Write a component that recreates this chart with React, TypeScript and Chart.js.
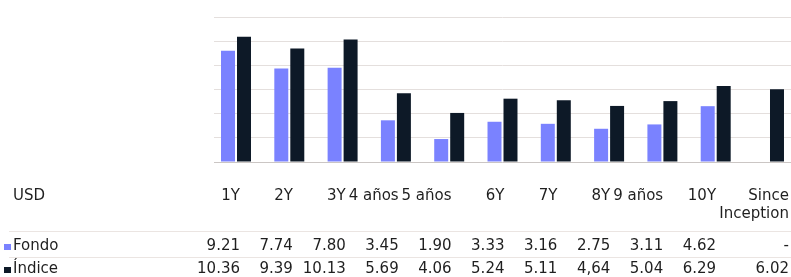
import React, { useEffect, useRef } from 'react';
import { Chart, registerables } from 'chart.js';

Chart.register(...registerables);

const categories = ['1Y', '2Y', '3Y', '4 años', '5 años', '6Y', '7Y', '8Y', '9 años', '10Y', 'Since Inception'];
const fondoValues: (number | null)[] = [9.21, 7.74, 7.8, 3.45, 1.9, 3.33, 3.16, 2.75, 3.11, 4.62, null];
const indiceValues: (number | null)[] = [10.36, 9.39, 10.13, 5.69, 4.06, 5.24, 5.11, 4.64, 5.04, 6.29, 6.02];
const fondoLabels = ['9.21', '7.74', '7.80', '3.45', '1.90', '3.33', '3.16', '2.75', '3.11', '4.62', '-'];
const indiceLabels = ['10.36', '9.39', '10.13', '5.69', '4.06', '5.24', '5.11', '4,64', '5.04', '6.29', '6.02'];
const currencyLabel = 'USD';
const seriesNames = ['Fondo', 'Índice'];
const yMin = 0;
const yMax = 12;
const yStep = 2;

const FONDO_COLOR = '#7A82FF';
const INDICE_COLOR = '#0D1927';
const FONT = '"DejaVu Sans", sans-serif';
const TEXT_COLOR = '#1f1f1f';

const colRight = (i: number) => (i < 10 ? 240 + 52.9 * i : 789);
const colLeft = (i: number) => (i === 0 ? 187 : i < 10 ? colRight(i - 1) : colRight(9));

export default function App() {
  const canvasRef = useRef<HTMLCanvasElement | null>(null);

  useEffect(() => {
    const canvas = canvasRef.current;
    if (!canvas) return;
    const chart = new Chart(canvas, {
      type: 'bar',
      data: {
        datasets: [
          {
            label: seriesNames[0],
            data: fondoValues.map((v, i) => ({ x: i, y: v })) as any,
            backgroundColor: FONDO_COLOR,
            categoryPercentage: 0.6,
            barPercentage: 0.875,
          },
          {
            label: seriesNames[1],
            data: indiceValues.map((v, i) => ({ x: i, y: v })) as any,
            backgroundColor: INDICE_COLOR,
            categoryPercentage: 0.6,
            barPercentage: 0.875,
          },
        ],
      },
      options: {
        responsive: false,
        animation: false,
        layout: { padding: { left: 214, right: 0, top: 17, bottom: 115 } },
        plugins: { legend: { display: false }, tooltip: { enabled: false } },
        scales: {
          x: {
            type: 'linear',
            min: -0.4128,
            max: 10.4128,
            offset: false,
            display: false,
            ticks: { stepSize: 1, includeBounds: false },
          },
          y: {
            min: yMin,
            max: yMax,
            ticks: { display: false, stepSize: yStep },
            grid: {
              color: (ctx: any) => (ctx.tick && ctx.tick.value === 0 ? '#cbc6c4' : '#e4dfdd'),
              drawTicks: false,
              lineWidth: 1,
            },
            border: { display: false },
          },
        },
      },
    });
    return () => chart.destroy();
  }, []);

  const cellBase: React.CSSProperties = {
    position: 'absolute',
    textAlign: 'right',
    whiteSpace: 'nowrap',
    lineHeight: '18px',
  };

  const renderRow = (labels: string[], top: number, wrapLast: boolean) =>
    labels.map((t, i) => (
      <div
        key={i}
        style={{
          ...cellBase,
          top,
          left: colLeft(i),
          width: colRight(i) - colLeft(i),
          whiteSpace: wrapLast && i === 10 ? 'normal' : 'nowrap',
          direction: 'ltr',
        }}
      >
        {i < 10 || !wrapLast ? (
          <span style={{ position: 'absolute', right: 0, top: 0 }}>{t}</span>
        ) : (
          t
        )}
      </div>
    ));

  const square = (color: string, top: number) => (
    <div style={{ position: 'absolute', left: 4, top, width: 7, height: 6, background: color }} />
  );

  return (
    <div
      style={{
        position: 'absolute',
        left: 0,
        top: 0,
        width: 791,
        height: 277,
        overflow: 'hidden',
        fontFamily: FONT,
        fontSize: 15,
        color: TEXT_COLOR,
        background: '#ffffff',
      }}
    >
      <canvas ref={canvasRef} width={791} height={277} style={{ position: 'absolute', left: 0, top: 0, display: 'block' }} />
      <div style={{ ...cellBase, top: 186, left: 13, textAlign: 'left' }}>{currencyLabel}</div>
      {renderRow(categories, 186, true)}
      <div style={{ position: 'absolute', left: 9, right: 0, top: 231, height: 1, background: '#ebe5e2' }} />
      {square(FONDO_COLOR, 244)}
      <div style={{ ...cellBase, top: 236, left: 13, textAlign: 'left' }}>{seriesNames[0]}</div>
      {renderRow(fondoLabels, 236, false)}
      <div style={{ position: 'absolute', left: 9, right: 0, top: 257, height: 1, background: '#ebe5e2' }} />
      {square(INDICE_COLOR, 267)}
      <div style={{ ...cellBase, top: 259, left: 13, textAlign: 'left' }}>{seriesNames[1]}</div>
      {renderRow(indiceLabels, 259, false)}
    </div>
  );
}
